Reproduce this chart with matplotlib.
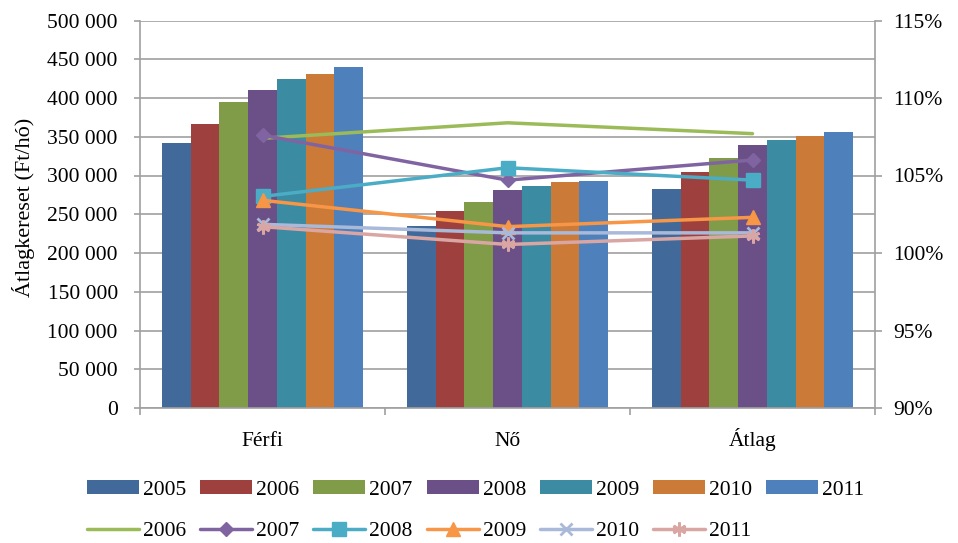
import matplotlib
matplotlib.use('Agg')
import matplotlib.pyplot as plt
import numpy as np
from matplotlib.ticker import FuncFormatter, FixedLocator
from matplotlib.patches import Patch

plt.rcParams['font.family'] = ['Liberation Serif', 'DejaVu Serif']

# ---------------- data ----------------
categories = ['Férfi', 'Nő', 'Átlag']

bar_years = ['2005', '2006', '2007', '2008', '2009', '2010', '2011']
wage_2005 = [342300, 234700, 282900]
wage_2006 = [366800, 254600, 304400]
wage_2007 = [395100, 266200, 322400]
wage_2008 = [410600, 281600, 339200]
wage_2009 = [424800, 285900, 345600]
wage_2010 = [431600, 291100, 350800]
wage_2011 = [439800, 292800, 355600]
wages = [wage_2005, wage_2006, wage_2007, wage_2008, wage_2009, wage_2010, wage_2011]

line_years = ['2006', '2007', '2008', '2009', '2010', '2011']
index_2006 = [107.4, 108.4, 107.7]
index_2007 = [107.6, 104.7, 106.0]
index_2008 = [103.65, 105.5, 104.7]
index_2009 = [103.4, 101.7, 102.3]
index_2010 = [101.85, 101.3, 101.3]
index_2011 = [101.7, 100.55, 101.1]
indices = [index_2006, index_2007, index_2008, index_2009, index_2010, index_2011]

left_ticks = [0, 50000, 100000, 150000, 200000, 250000, 300000, 350000, 400000, 450000, 500000]
right_ticks = [90, 95, 100, 105, 110, 115]

# ---------------- style ----------------
bar_colors = ['#416A9B', '#9D403E', '#809C48', '#6A5086', '#3B8BA2', '#CC7A37', '#4E80BC']
line_colors = ['#9BBB59', '#8064A2', '#4BACC6', '#F79646', '#A9B9DA', '#D9A6A4']
line_markers = [None, 'D', 's', '^', 'x', (6, 2, 0)]
marker_sizes = [0, 7.5, 9.5, 9.5, 9, 10]

FS = 15.5
GRAY = '#A0A0A0'
W, H = 958, 543

fig = plt.figure(figsize=(W / 100, H / 100), dpi=100)
ax = fig.add_axes([140 / W, 1 - 408 / H, (875 - 140) / W, (408 - 20.5) / H])

x = np.arange(len(categories))
n = len(bar_years)
bw = 0.82 / n
for i, (yr, vals, c) in enumerate(zip(bar_years, wages, bar_colors)):
    ax.bar(x + (i - (n - 1) / 2) * bw, vals, width=bw, color=c, edgecolor='none',
           label=yr, zorder=2)

ax.set_xlim(-0.5, 2.5)
ax.set_ylim(0, 500000)
ax.yaxis.set_major_locator(FixedLocator(left_ticks))
ax.yaxis.set_major_formatter(FuncFormatter(lambda v, p: f"{v:,.0f}".replace(',', ' ')))
ax.yaxis.grid(True, color=GRAY, lw=1.2, zorder=0)
ax.set_axisbelow(True)

ax.set_xticks(x)
ax.set_xticklabels(categories)
for lbl in ax.get_xticklabels():
    lbl.set_verticalalignment('baseline')
ax.set_xticks([-0.5, 0.5, 1.5, 2.5], minor=True)
ax.tick_params(axis='x', which='major', length=0, pad=27.4, labelsize=FS)
ax.tick_params(axis='x', which='minor', length=5, width=1.2, color=GRAY, direction='out')
ax.tick_params(axis='y', which='major', length=4.5, width=1.2, color=GRAY, direction='out',
               pad=11.5, labelsize=FS)

for s in ['top', 'right']:
    ax.spines[s].set_visible(False)
for s in ['left', 'bottom']:
    ax.spines[s].set_color(GRAY)
    ax.spines[s].set_linewidth(1.2)

ax.set_ylabel('Átlagkereset (Ft/hó)', fontsize=16)
ax.yaxis.set_label_coords((35 - 140) / 735, 0.517)

# ---------------- index lines ----------------
ax2 = ax.twinx()
ax2.set_ylim(90, 115)
ax2.yaxis.set_major_locator(FixedLocator(right_ticks))
ax2.yaxis.set_major_formatter(FuncFormatter(lambda v, p: f"{v:.0f}%"))
ax2.tick_params(axis='y', length=5, width=1.2, color=GRAY, direction='out', pad=8, labelsize=FS)
for s in ['top', 'left', 'bottom']:
    ax2.spines[s].set_visible(False)
ax2.spines['right'].set_color(GRAY)
ax2.spines['right'].set_linewidth(1.2)

line_handles = []
for yr, vals, c, m, ms in zip(line_years, indices, line_colors, line_markers, marker_sizes):
    kw = dict(color=c, lw=2.5, solid_capstyle='round')
    if m is not None:
        mew = 2.0 if m == 'x' or isinstance(m, tuple) else 1
        kw.update(marker=m, markersize=ms, markerfacecolor=c, markeredgecolor=c, markeredgewidth=mew)
    h, = ax2.plot(x, vals, label=yr, **kw)
    line_handles.append(h)

# ---------------- legends ----------------
fpx = FS * 100 / 72
bar_handles = [Patch(facecolor=c, edgecolor='none') for c in bar_colors]
fig.legend(bar_handles, bar_years, ncol=7, loc='center left',
           bbox_to_anchor=(87 / W, 1 - 490 / H), frameon=False, borderpad=0,
           borderaxespad=0, handlelength=52 / fpx, handleheight=12.7 / fpx,
           handletextpad=4 / fpx, columnspacing=14 / fpx, fontsize=FS)
fig.legend(line_handles, line_years, ncol=6, loc='center left',
           bbox_to_anchor=(87 / W, 1 - 531 / H), frameon=False, borderpad=0,
           borderaxespad=0, handlelength=52 / fpx, numpoints=1,
           handletextpad=4 / fpx, columnspacing=14 / fpx, fontsize=FS)

fig.savefig('out.png', dpi=100)
